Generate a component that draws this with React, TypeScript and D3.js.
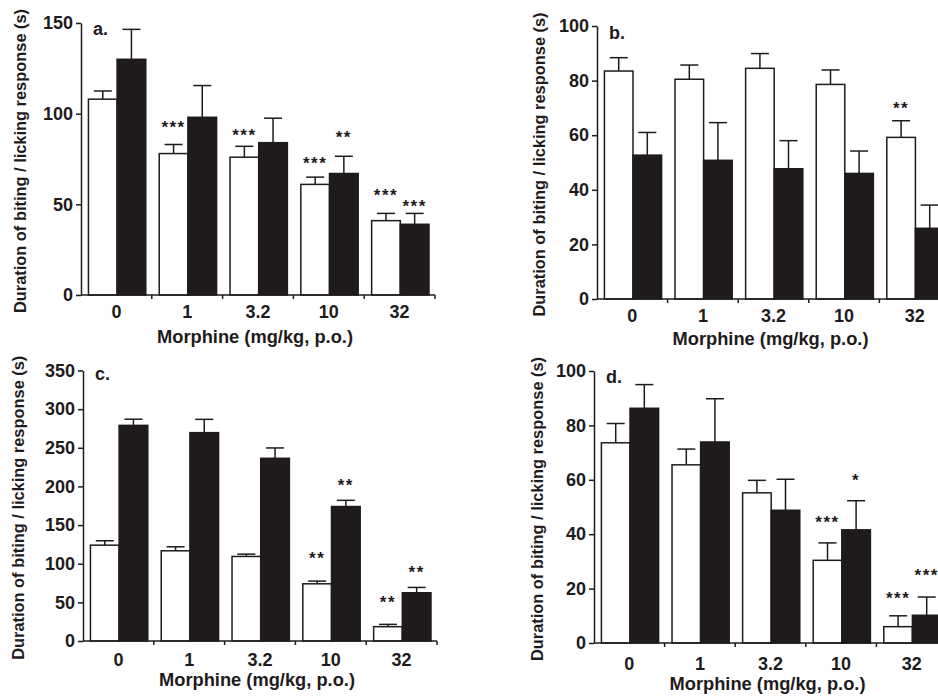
import React, { useEffect, useRef } from "react";
import * as d3 from "d3";

const doses = ["0", "1", "3.2", "10", "32"];

// panel a
const aWhite = [108, 78, 76, 61, 41];
const aWhiteSE = [4.5, 5, 6, 4, 4];
const aBlack = [130, 98, 84, 67, 39];
const aBlackSE = [16.5, 17.5, 13.5, 9.5, 6];
const aTicks = [0, 50, 100, 150];
const aStars = [
  { dose: "1", group: "w", text: "***", at: 95 },
  { dose: "3.2", group: "w", text: "***", at: 90.5 },
  { dose: "10", group: "b", text: "**", at: 89.4 },
  { dose: "10", group: "w", text: "***", at: 75 },
  { dose: "32", group: "w", text: "***", at: 57.4 },
  { dose: "32", group: "b", text: "***", at: 51.3 },
];

// panel b
const bWhite = [83.5, 80.5, 84.5, 78.6, 59.2];
const bWhiteSE = [4.9, 5.2, 5.4, 5.3, 6.1];
const bBlack = [52.7, 50.8, 47.7, 46, 25.9];
const bBlackSE = [8.3, 13.8, 10.3, 8.2, 8.5];
const bTicks = [0, 20, 40, 60, 80, 100];
const bStars = [{ dose: "32", group: "w", text: "**", at: 71.4 }];

// panel c
const cWhite = [124, 116.7, 109.4, 74, 18.5];
const cWhiteSE = [5.7, 5.2, 3, 3.5, 3];
const cBlack = [279, 269.6, 236.4, 174, 62.4];
const cBlackSE = [8, 17.2, 13.4, 8, 6.9];
const cTicks = [0, 50, 100, 150, 200, 250, 300, 350];
const cStars = [
  { dose: "10", group: "b", text: "**", at: 207.5 },
  { dose: "10", group: "w", text: "**", at: 112 },
  { dose: "32", group: "b", text: "**", at: 94 },
  { dose: "32", group: "w", text: "**", at: 56 },
];

// panel d
const dWhite = [73.6, 65.5, 55.2, 30.4, 6];
const dWhiteSE = [7.1, 5.8, 4.6, 6.4, 4];
const dBlack = [86.3, 73.9, 48.8, 41.6, 10.2];
const dBlackSE = [8.7, 15.9, 11.4, 10.7, 6.7];
const dTicks = [0, 20, 40, 60, 80, 100];
const dStars = [
  { dose: "10", group: "b", text: "*", at: 61.3 },
  { dose: "10", group: "w", text: "***", at: 46 },
  { dose: "32", group: "w", text: "***", at: 18 },
  { dose: "32", group: "b", text: "***", at: 26.4 },
];

const yTitle = "Duration of biting / licking response (s)";
const xTitle = "Morphine (mg/kg, p.o.)";

const panels = [
  { id: "a.", white: aWhite, whiteSE: aWhiteSE, black: aBlack, blackSE: aBlackSE, ticks: aTicks, stars: aStars,
    x0: 81, x1: 435, y0: 295, yTop: 23, ylabX: 20, xlabY: 343, tickDy: 23, tagY: 35 },
  { id: "b.", white: bWhite, whiteSE: bWhiteSE, black: bBlack, blackSE: bBlackSE, ticks: bTicks, stars: bStars,
    x0: 597, x1: 950, y0: 299, yTop: 26, ylabX: 539, xlabY: 345, tickDy: 23, tagY: 39 },
  { id: "c.", white: cWhite, whiteSE: cWhiteSE, black: cBlack, blackSE: cBlackSE, ticks: cTicks, stars: cStars,
    x0: 83, x1: 437, y0: 641, yTop: 370.5, ylabX: 18, xlabY: 686, tickDy: 25, tagY: 380 },
  { id: "d.", white: dWhite, whiteSE: dWhiteSE, black: dBlack, blackSE: dBlackSE, ticks: dTicks, stars: dStars,
    x0: 594, x1: 947, y0: 643, yTop: 371, ylabX: 537, xlabY: 690, tickDy: 27, tagY: 383 },
];

const FONT = "'Liberation Sans', Arial, Helvetica, sans-serif";
const INK = "#1f1b1c";

export default function App() {
  const ref = useRef<SVGSVGElement | null>(null);

  useEffect(() => {
    const svg = d3.select(ref.current);
    svg.selectAll("*").remove();

    panels.forEach((p) => {
      const g = svg.append("g");
      const max = p.ticks[p.ticks.length - 1];
      const y = d3.scaleLinear().domain([0, max]).range([p.y0, p.yTop]);
      const x = d3.scaleBand().domain(doses).range([p.x0, p.x1]).paddingInner(0).paddingOuter(0);
      const bw = x.bandwidth();
      const sub = d3.scaleBand().domain(["w", "b"]).range([bw * 0.105, bw * 0.915]).padding(0);
      const sw = sub.bandwidth();

      const series = [
        { key: "w", vals: p.white, se: p.whiteSE, fill: "#ffffff" },
        { key: "b", vals: p.black, se: p.blackSE, fill: INK },
      ];

      series.forEach((s) => {
        s.vals.forEach((v, i) => {
          const cx = (x(doses[i]) as number) + (sub(s.key) as number) + sw / 2;
          const top = y(v + s.se[i]);
          g.append("line").attr("x1", cx).attr("x2", cx).attr("y1", y(v)).attr("y2", top)
            .attr("stroke", INK).attr("stroke-width", 1.5);
          g.append("line").attr("x1", cx - 9).attr("x2", cx + 9).attr("y1", top).attr("y2", top)
            .attr("stroke", INK).attr("stroke-width", 1.5);
        });
        g.selectAll(null).data(s.vals).enter().append("rect")
          .attr("x", (_, i) => (x(doses[i]) as number) + (sub(s.key) as number))
          .attr("y", (v) => y(v))
          .attr("width", sw)
          .attr("height", (v) => p.y0 - y(v))
          .attr("fill", s.fill)
          .attr("stroke", INK)
          .attr("stroke-width", 1.5);
      });

      // y axis
      const yAxis = d3.axisLeft(y).tickValues(p.ticks).tickSize(5).tickSizeOuter(0).tickPadding(3)
        .tickFormat((d) => String(d));
      const ya = g.append("g").attr("transform", `translate(${p.x0},0)`).call(yAxis);
      ya.select(".domain").attr("stroke", INK).attr("stroke-width", 1.5);
      ya.selectAll(".tick line").attr("stroke", INK).attr("stroke-width", 1.5);
      ya.selectAll(".tick text").attr("font-family", FONT).attr("font-weight", "bold")
        .attr("font-size", 18).attr("fill", INK);

      // x axis
      g.append("line").attr("x1", p.x0).attr("x2", p.x1).attr("y1", p.y0).attr("y2", p.y0)
        .attr("stroke", INK).attr("stroke-width", 1.5);
      doses.forEach((dname) => {
        const bx = (x(dname) as number) + bw;
        g.append("line").attr("x1", bx).attr("x2", bx).attr("y1", p.y0).attr("y2", p.y0 + 4)
          .attr("stroke", INK).attr("stroke-width", 1.5);
        g.append("text").attr("x", (x(dname) as number) + bw / 2).attr("y", p.y0 + p.tickDy)
          .attr("text-anchor", "middle").attr("font-family", FONT).attr("font-weight", "bold")
          .attr("font-size", 18).attr("fill", INK).text(dname);
      });

      // stars
      p.stars.forEach((st) => {
        const cx = (x(st.dose) as number) + (sub(st.group) as number) + sw / 2;
        g.append("text").attr("x", cx).attr("y", y(st.at) + 10)
          .attr("text-anchor", "middle").attr("font-family", FONT).attr("font-weight", "bold")
          .attr("font-size", 17).attr("letter-spacing", 1.5).attr("fill", INK).text(st.text);
      });

      // panel tag
      g.append("text").attr("x", p.x0 + 12).attr("y", p.tagY).attr("font-family", FONT)
        .attr("font-weight", "bold").attr("font-size", 18).attr("fill", INK).text(p.id);

      // axis titles
      g.append("text").attr("x", (p.x0 + p.x1) / 2 - 3).attr("y", p.xlabY).attr("text-anchor", "middle")
        .attr("font-family", FONT).attr("font-weight", "bold").attr("font-size", 18.3).attr("fill", INK)
        .text(xTitle);
      const my = (p.y0 + p.yTop) / 2 + 2;
      g.append("text").attr("transform", `translate(${p.ylabX},${my}) rotate(-90)`)
        .attr("text-anchor", "middle").attr("dy", "0.36em")
        .attr("font-family", FONT).attr("font-weight", "bold").attr("font-size", 16.4).attr("fill", INK)
        .text(yTitle);
    });
  }, []);

  return (
    <svg ref={ref} width={938} height={696}
      style={{ position: "absolute", left: 0, top: 0, background: "#fff" }} />
  );
}
